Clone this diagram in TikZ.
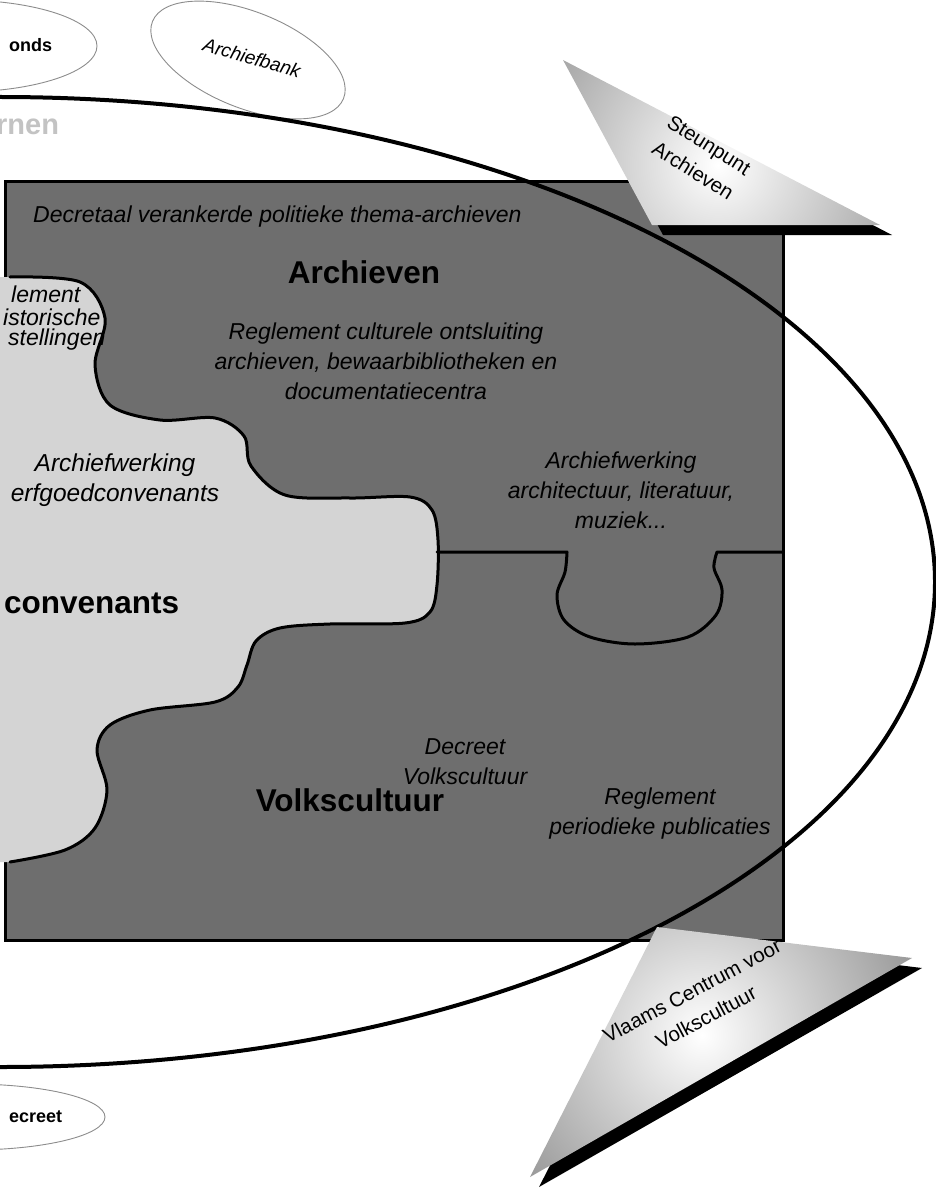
\documentclass[tikz,border=0pt]{standalone}
\usepackage{fontspec}
\setmainfont{Liberation Sans}
\usetikzlibrary{shapes.geometric}
\definecolor{boxgray}{RGB}{110,110,110}
\definecolor{lightpiece}{RGB}{212,212,212}
\definecolor{ellgray}{RGB}{140,140,140}
\definecolor{fadetext}{RGB}{195,195,195}
\definecolor{shadegray}{RGB}{105,105,105}
\tikzset{
  ital/.style={font=\itshape\fontsize{23}{30}\selectfont, align=center, inner sep=0pt},
  itleft/.style={font=\itshape\fontsize{23}{24}\selectfont, anchor=west, inner sep=0pt},
  bigbold/.style={font=\bfseries\fontsize{31.5}{36}\selectfont, inner sep=0pt},
  smallbold/.style={font=\bfseries\fontsize{18}{20}\selectfont, anchor=west, inner sep=0pt},
  smallell/.style={ellipse, draw=ellgray, line width=0.9pt, inner sep=0pt},
  tritext/.style={font=\fontsize{20.5}{30}\selectfont, align=center, inner sep=0pt},
  border/.style={line width=3pt, line join=round, line cap=round},
}
\begin{document}
\begin{tikzpicture}[x=1pt,y=1pt]
\useasboundingbox (0,0) rectangle (936,-1193);
\clip (0,0) rectangle (936,-1193);

% small ellipses at the top and bottom
\node[smallell, minimum width=274pt, minimum height=92pt] (fondsell) at (-40,-46) {};
\node[smallbold] (fonds) at (9,-45) {onds};
\node[smallell, minimum width=206pt, minimum height=96pt, rotate=-22] (bankell) at (248,-60) {};
\node[font=\itshape\fontsize{19}{22}\selectfont, rotate=-16, inner sep=0pt] (bank) at (252,-58) {Archiefbank};
\node[font=\bfseries\fontsize{29}{32}\selectfont, text=fadetext, anchor=west, inner sep=0pt] (rnen) at (-4,-127) {rnen};
\node[smallell, minimum width=270pt, minimum height=66pt] (decrell) at (-30,-1117) {};
\node[smallbold] (decr) at (9,-1117) {ecreet};

% the box
\path[fill=boxgray, draw=black, line width=3pt] (5,-182) rectangle (783,-940);

% light puzzle piece
\fill[lightpiece] (0,-277) -- plot[smooth, tension=0.55] coordinates {
 (10,-277) (80,-282) (105,-318) (95,-365) (110,-405) (160,-420) (215,-418)
 (244,-436) (251,-466) (285,-495) (350,-498) (410,-497) (432,-510) (438,-540)
 (437,-585) (430,-612) (405,-623) (330,-624) (280,-628) (256,-641) (247,-665)
 (238,-687) (215,-702) (150,-710) (110,-725) (97,-750) (107,-790) (95,-828)
 (65,-850) (10,-862)} -- (0,-862) -- cycle;

% texts in the box
\node[itleft] (decretaal) at (33,-217) {Decretaal verankerde politieke thema-archieven};
\node[bigbold] (archieven) at (364,-272) {Archieven};
\node[ital] (reglcult) at (386,-361) {Reglement culturele ontsluiting\\archieven, bewaarbibliotheken en\\documentatiecentra};
\node[itleft] (lement) at (11,-294) {lement};
\node[itleft] (histor) at (3,-317) {istorische};
\node[itleft] (instel) at (8,-340) {stellingen};
\node[ital, font=\itshape\fontsize{24.5}{30}\selectfont] (awerf) at (115,-480) {Archiefwerking\\erfgoedconvenants};
\node[bigbold, anchor=west] (conv) at (4,-603) {convenants};
\node[ital] (awarch) at (621,-490) {Archiefwerking\\architectuur, literatuur,\\muziek...};
\node[ital] (decrvolk) at (465,-762) {Decreet\\Volkscultuur};
\node[bigbold] (volks) at (350,-800) {Volkscultuur};
\node[ital] (reglper) at (660,-814) {Reglement\\periodieke publicaties};

% piece borders
\draw[border] plot[smooth, tension=0.55] coordinates {
 (10,-277) (80,-282) (105,-318) (95,-365) (110,-405) (160,-420) (215,-418)
 (244,-436) (251,-466) (285,-495) (350,-498) (410,-497) (432,-510) (438,-540)
 (437,-585) (430,-612) (405,-623) (330,-624) (280,-628) (256,-641) (247,-665)
 (238,-687) (215,-702) (150,-710) (110,-725) (97,-750) (107,-790) (95,-828)
 (65,-850) (10,-862)};
\draw[border] (437,-552) -- plot[smooth, tension=0.55] coordinates {
 (567,-552) (565,-572) (557,-595) (564,-620) (590,-637) (635,-644) (688,-637)
 (716,-615) (722,-590) (714,-568) (717,-552)} -- (783,-552);

% big ellipse
\draw[line width=4pt] (0,-582) ellipse [x radius=935, y radius=485];

% top triangle
\fill[black] (574,-70) -- (663,-235) -- (892,-235) -- cycle;
\begin{scope}
\clip (563,-60) -- (652,-225) -- (880,-225) -- cycle;
\shade[inner color=white, outer color=shadegray] (718,-165) circle (320);
\end{scope}
\node[tritext, rotate=-32] (steun) at (701,-158) {Steunpunt\\Archieven};

% bottom triangle
\fill[black] (667,-937) -- (922,-968) -- (539,-1187) -- cycle;
\begin{scope}
\clip (657,-927) -- (912,-958) -- (530,-1177) -- cycle;
\shade[inner color=white, outer color=shadegray] (702,-1035) circle (330);
\end{scope}
\node[tritext, rotate=28] (vcv) at (699,-1004) {Vlaams Centrum voor\\Volkscultuur};
\end{tikzpicture}
\end{document}
